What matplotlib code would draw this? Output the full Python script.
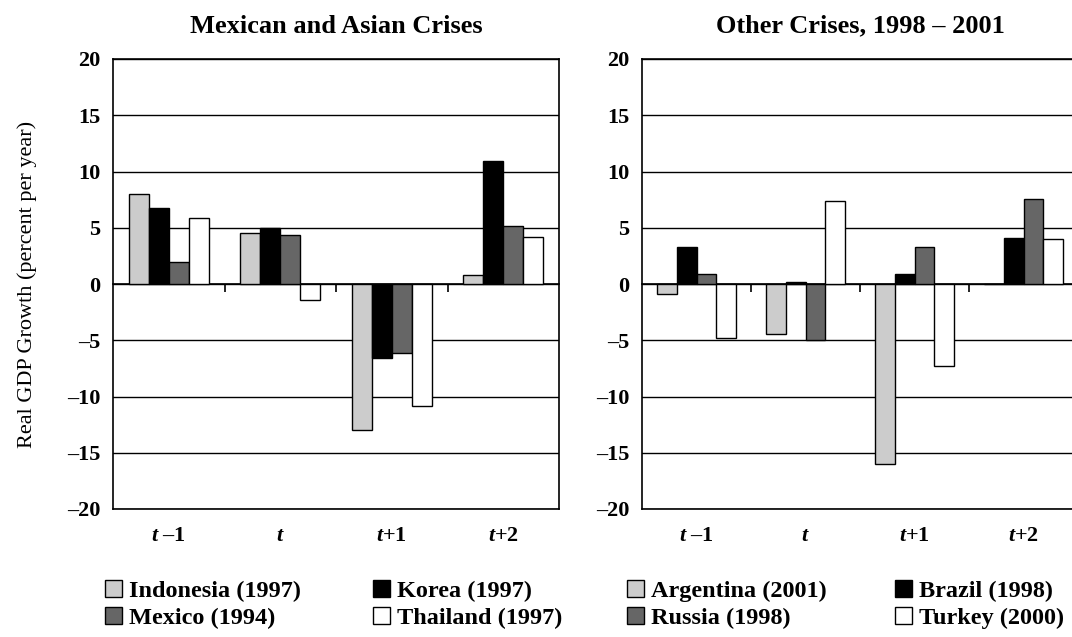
import matplotlib
matplotlib.use('Agg')
import matplotlib.pyplot as plt
import numpy as np

plt.rcParams['font.family'] = ['Liberation Serif', 'DejaVu Serif']
plt.rcParams['mathtext.fontset'] = 'custom'
plt.rcParams['mathtext.it'] = 'Liberation Serif:bold:italic'
plt.rcParams['mathtext.rm'] = 'Liberation Serif:bold'

# 横轴类别
periods = [r'$\mathit{t}$ –1', r'$\mathit{t}$', r'$\mathit{t}$+1', r'$\mathit{t}$+2']

# 左图: 墨西哥和亚洲危机
left_names = ['Indonesia (1997)', 'Korea (1997)', 'Mexico (1994)', 'Thailand (1997)']
indonesia = [8.0, 4.5, -13.0, 0.8]
korea = [6.8, 5.0, -6.6, 10.9]
mexico = [2.0, 4.4, -6.1, 5.2]
thailand = [5.9, -1.4, -10.8, 4.2]

# 右图: 其他危机
right_names = ['Argentina (2001)', 'Brazil (1998)', 'Russia (1998)', 'Turkey (2000)']
argentina = [-0.9, -4.4, -16.0, 0.0]
brazil = [3.3, 0.2, 0.9, 4.1]
russia = [0.9, -5.0, 3.3, 7.6]
turkey = [-4.8, 7.4, -7.3, 4.0]

colors = ['#cccccc', '#000000', '#666666', '#ffffff']
yticks = np.arange(-20, 21, 5)
ytick_labels = [str(v).replace('-', '–') for v in yticks]

W, H = 1072, 637
fig = plt.figure(figsize=(W / 100, H / 100), dpi=100)


def panel(rect, title, series, names, legend_x, col_gap):
    ax = fig.add_axes(rect)
    x = np.arange(len(periods))
    bw = 0.18
    bars = []
    for k, vals in enumerate(series):
        b = ax.bar(x + (k - 1.5) * bw, vals, bw, color=colors[k],
                   edgecolor='black', linewidth=1.0, zorder=3, label=names[k])
        bars.append(b)
    ax.set_xlim(-0.5, 3.5)
    ax.set_ylim(-20, 20)
    ax.set_yticks(yticks)
    ax.set_yticklabels(ytick_labels, fontsize=16, fontweight='bold')
    ax.yaxis.grid(True, color='black', linewidth=1.0)
    ax.set_axisbelow(True)
    ax.tick_params(axis='y', length=0, pad=9)
    ax.set_xticks(x)
    ax.set_xticklabels(periods, fontsize=16, fontweight='bold')
    ax.tick_params(axis='x', length=0, pad=12)
    for s in ax.spines.values():
        s.set_linewidth(1.2)
    # 零线上的刻度
    sec = ax.secondary_xaxis(0.5)
    sec.set_xticks([0.5, 1.5, 2.5])
    sec.set_xticklabels([])
    sec.tick_params(length=6, width=1.2, direction='in')
    sec.spines['bottom'].set_linewidth(1.2)
    sec.spines['top'].set_linewidth(1.2)
    ax.set_title(title, fontsize=19, fontweight='bold', pad=19)
    order = [bars[0], bars[2], bars[1], bars[3]]
    fig.legend(order, [names[0], names[2], names[1], names[3]], ncol=2,
               loc='upper left', bbox_to_anchor=(legend_x / W, 1 - 580 / H),
               frameon=False, borderaxespad=0, borderpad=0,
               handlelength=0.7, handleheight=0.7, handletextpad=0.3,
               columnspacing=col_gap, labelspacing=0.2,
               prop={'family': 'Liberation Serif', 'weight': 'bold', 'size': 17.5})
    return ax


ax1 = panel([113 / W, 1 - 509 / H, 446 / W, 450 / H], 'Mexican and Asian Crises',
            [indonesia, korea, mexico, thailand], left_names, 105, 2.95)
ax1.set_ylabel('Real GDP Growth (percent per year)', fontsize=16, labelpad=22)

ax2 = panel([642 / W, 1 - 509 / H, 436 / W, 450 / H], 'Other Crises, 1998 – 2001',
            [argentina, brazil, russia, turkey], right_names, 627, 2.8)

fig.savefig('out.png', dpi=100)
